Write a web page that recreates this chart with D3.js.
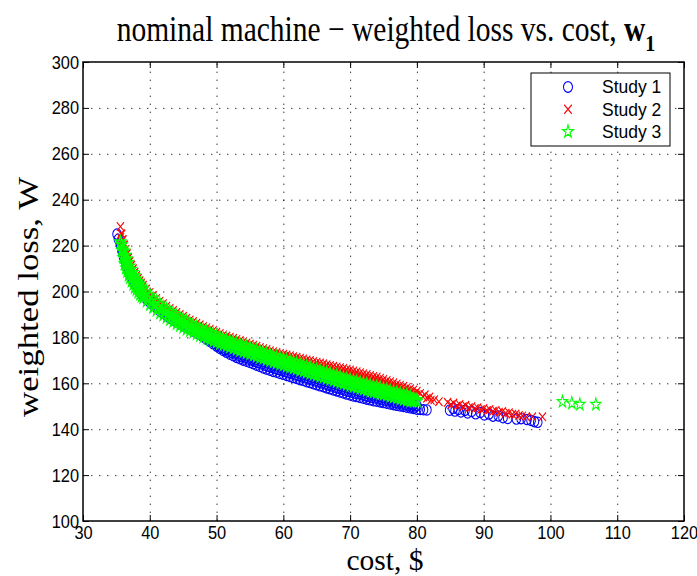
<!DOCTYPE html>
<html>
<head>
<meta charset="utf-8">
<script src="https://cdn.jsdelivr.net/npm/d3@7"></script>
<style>
  body { margin: 0; background: #fff; }
  svg { display: block; }
</style>
</head>
<body>
<svg id="chart" width="697" height="576"></svg>
<script>
// ---- data ---------------------------------------------------------------
const xTicks = [30, 40, 50, 60, 70, 80, 90, 100, 110, 120];
const yTicks = [100, 120, 140, 160, 180, 200, 220, 240, 260, 280, 300];
const legendLabels = ["Study 1", "Study 2", "Study 3"];

// cost values ($) at which the dense part of each front is sampled
const denseCost = [35.6,35.8,36.0,36.2,36.4,36.6,36.8,37.0,37.25,37.5,37.75,38.0,38.25,38.5,38.75,39.0,
  39.5,40.0,40.5,41.0,41.5,42.0,42.5,43.0,43.5,44.0,44.5,45.0,45.5,46.0,46.5,47.0,47.5,48.0,48.5,49.0,49.5,
  50.0,50.5,51.0,51.5,52.0,52.5,53.0,53.5,54.0,54.5,55.0,55.5,56.0,56.5,57.0,57.5,58.0,58.5,59.0,59.5,
  60.0,60.5,61.0,61.5,62.0,62.5,63.0,63.5,64.0,64.5,65.0,65.5,66.0,66.5,67.0,67.5,68.0,68.5,69.0,69.5,
  70.0,70.5,71.0,71.5,72.0,72.5,73.0,73.5,74.0,74.5,75.0,75.5,76.0,76.5,77.0,77.5,78.0,78.5,79.0,79.5,80.0];
// second set of sample costs, lying between the ones above
const midCost = [35.7,35.9,36.1,36.3,36.5,36.7,36.9,37.125,37.375,37.625,37.875,38.125,38.375,38.625,38.875,
  39.25,39.75,40.25,40.75,41.25,41.75,42.25,42.75,43.25,43.75,44.25,44.75,45.25,45.75,46.25,46.75,47.25,47.75,
  48.25,48.75,49.25,49.75,50.25,50.75,51.25,51.75,52.25,52.75,53.25,53.75,54.25,54.75,55.25,55.75,56.25,56.75,
  57.25,57.75,58.25,58.75,59.25,59.75,60.25,60.75,61.25,61.75,62.25,62.75,63.25,63.75,64.25,64.75,65.25,65.75,
  66.25,66.75,67.25,67.75,68.25,68.75,69.25,69.75,70.25,70.75,71.25,71.75,72.25,72.75,73.25,73.75,74.25,74.75,
  75.25,75.75,76.25,76.75,77.25,77.75,78.25,78.75,79.25,79.75];

// Study 1 (weighted loss W)
const study1LossHi = [221.2,218.7,216.5,214.5,212.7,211.1,209.6,208.2,206.7,205.3,204.0,202.8,201.7,200.7,199.8,198.9,
  197.4,196.0,194.7,193.5,192.3,191.2,190.2,189.2,188.3,187.4,186.6,185.8,185.0,184.2,183.5,182.8,182.1,181.4,180.5,179.5,178.5,
  177.5,176.6,175.7,175.0,174.5,174.0,173.5,173.0,172.5,172.0,171.5,171.0,170.5,170.0,169.5,169.0,168.5,168.0,167.6,167.1,
  166.7,166.2,165.8,165.3,164.9,164.4,164.0,163.5,163.1,162.6,162.2,161.7,161.3,160.8,160.4,159.9,159.5,159.0,158.6,158.1,
  157.7,157.3,156.9,156.5,156.1,155.7,155.3,154.9,154.6,154.2,153.9,153.6,153.2,152.9,152.5,152.1,151.9,151.5,151.1,150.7,150.3];
const study1LossMid = [219.7,217.3,215.2,213.3,211.6,210.1,208.6,207.2,205.7,204.4,203.1,202.0,200.9,200.0,199.1,
  197.9,196.4,195.1,193.8,192.6,191.5,190.4,189.4,188.5,187.6,186.7,185.9,185.1,184.3,183.6,182.9,182.1,181.3,
  180.3,179.4,178.4,177.4,176.4,175.5,174.7,174.0,173.4,172.8,172.2,171.6,171.1,170.6,170.1,169.5,169.0,168.4,
  167.9,167.4,166.9,166.4,166.0,165.5,165.1,164.6,164.2,163.7,163.3,162.8,162.4,161.9,161.5,161.0,160.6,160.1,
  159.7,159.2,158.8,158.3,157.9,157.4,157.0,156.5,156.1,155.7,155.4,155.0,154.6,154.2,153.9,153.6,153.2,152.9,
  152.6,152.3,151.9,151.6,151.3,151.0,150.7,150.4,150.0,149.7];
const study1LossLo = [220.5,218.0,215.8,213.8,212.0,210.4,208.9,207.5,206.0,204.6,203.3,202.1,201.0,200.0,199.1,198.2,
  196.7,195.3,194.0,192.8,191.6,190.5,189.5,188.5,187.6,186.7,185.9,185.1,184.3,183.5,182.8,182.1,181.2,180.2,179.2,178.2,177.2,
  176.2,175.2,174.3,173.5,172.7,172.0,171.3,170.7,170.1,169.6,169.1,168.5,167.9,167.3,166.7,166.2,165.7,165.2,164.8,164.3,
  163.9,163.4,163.0,162.5,162.1,161.6,161.2,160.7,160.3,159.8,159.4,158.9,158.5,158.0,157.6,157.1,156.7,156.2,155.8,155.3,
  154.9,154.5,154.2,153.8,153.5,153.1,152.8,152.4,152.2,151.9,151.6,151.3,151.0,150.7,150.4,150.1,149.9,149.6,149.3,149.0,148.7];
const study1ExtraCost = [35.1,35.3,80.5,81.0,81.5,84.9,85.4,85.7,86.2,86.6,87.2,87.6,88.2,88.8,89.5,90.1,90.8,91.4,92.2,92.9,93.6,94.9,95.6,96.5,97.1,97.6,98.1];
const study1ExtraLoss = [225.0,222.8,148.6,148.5,148.4,148.3,149.1,147.9,148.6,147.5,148.2,147.1,147.7,146.7,147.3,146.2,146.6,145.7,145.8,145.0,144.7,144.4,144.6,144.2,143.8,143.3,143.0];

// Study 2
const study2LossHi = [228.3,225.0,222.6,220.3,218.3,216.5,214.8,213.2,211.5,209.9,208.4,207.0,205.8,204.7,203.7,202.7,
  201.1,199.6,198.2,197.0,195.8,194.7,193.6,192.6,191.7,190.8,190.0,189.2,188.4,187.6,186.9,186.2,185.5,184.8,184.2,183.6,183.0,
  182.3,181.7,181.1,180.6,180.1,179.6,179.1,178.6,178.1,177.6,177.1,176.6,176.1,175.6,175.1,174.7,174.2,173.8,173.4,173.0,
  172.7,172.3,172.0,171.6,171.3,170.9,170.6,170.2,169.9,169.5,169.2,168.8,168.5,168.1,167.8,167.4,167.1,166.8,166.5,166.1,
  165.8,165.4,165.0,164.6,164.2,163.8,163.4,163.0,162.7,162.2,161.7,161.2,160.7,160.2,159.7,159.2,158.7,158.2,157.6,157.1,156.5];
const study2LossMid = [225.2,222.6,220.3,218.1,216.2,214.5,212.8,211.2,209.5,208.0,206.5,205.3,204.1,203.1,202.1,
  200.8,199.2,197.8,196.4,195.2,194.1,192.9,191.9,191.0,190.1,189.2,188.4,187.6,186.8,186.1,185.4,184.7,184.0,
  183.3,182.7,182.1,181.5,180.8,180.2,179.7,179.2,178.7,178.2,177.7,177.2,176.7,176.2,175.7,175.2,174.7,174.2,
  173.7,173.3,172.8,172.4,172.1,171.7,171.4,171.0,170.7,170.3,170.0,169.6,169.3,168.9,168.6,168.2,167.9,167.5,
  167.2,166.8,166.5,166.1,165.8,165.4,165.2,164.8,164.4,164.0,163.6,163.2,162.8,162.4,162.0,161.7,161.3,160.8,
  160.3,159.8,159.3,158.8,158.2,157.8,157.2,156.7,156.1,155.6];
const study2LossLo = [223.5,220.5,218.3,216.3,214.5,212.9,211.4,210.0,208.5,207.1,205.8,204.6,203.5,202.5,201.6,200.7,
  199.2,197.8,196.5,195.3,194.1,193.0,192.0,191.0,190.1,189.2,188.4,187.6,186.8,186.0,185.3,184.6,183.9,183.2,182.6,182.0,181.4,
  180.8,180.2,179.6,179.1,178.6,178.1,177.6,177.1,176.6,176.1,175.6,175.1,174.6,174.1,173.6,173.1,172.6,172.2,171.9,171.6,
  171.3,170.9,170.5,170.1,169.7,169.3,168.9,168.5,168.1,167.7,167.3,166.9,166.5,166.1,165.7,165.3,164.9,164.5,164.1,163.7,
  163.3,162.9,162.5,162.1,161.7,161.3,160.9,160.5,160.2,159.8,159.4,159.0,158.5,158.1,157.6,157.2,156.8,156.4,155.9,155.5,155.0];
const study2ExtraCost = [80.5,80.9,81.2,81.5,81.9,82.1,82.6,83.3,84.6,85.1,85.5,86.0,86.4,86.9,87.3,87.8,88.2,88.7,89.1,89.6,
  90.0,90.5,90.9,91.4,91.8,92.3,92.8,93.3,93.8,94.3,94.8,95.3,95.8,96.4,97.3,98.8];
const study2ExtraLoss = [155.6,154.2,155.0,153.5,154.0,152.6,152.8,152.0,151.7,150.7,151.4,150.2,150.8,149.8,150.4,149.4,149.9,149.0,149.4,148.6,
  149.0,148.2,148.6,147.8,148.2,147.4,147.7,147.0,147.2,146.5,146.6,146.0,145.8,145.4,145.4,145.4];

// Study 3
const study3LossHi = [221.5,220.2,218.8,217.6,215.8,214.2,212.7,211.1,209.6,208.2,206.9,205.4,204.3,203.3,202.4,201.2,
  199.7,198.3,197.0,195.8,194.6,193.3,192.3,191.3,190.4,189.5,188.7,187.9,187.1,186.1,185.4,184.7,184.0,183.3,182.7,182.1,181.5,
  180.7,180.1,179.5,179.0,178.5,178.0,177.5,177.0,176.5,176.0,175.5,175.0,174.5,174.0,173.5,173.0,172.5,172.0,171.6,171.1,
  170.7,170.2,169.8,169.3,168.9,168.4,168.0,167.5,167.1,166.6,166.2,165.7,165.3,164.8,164.4,163.9,163.5,163.0,162.6,162.1,
  161.7,161.3,160.9,160.5,160.1,159.7,159.3,158.9,158.6,158.2,157.7,157.3,156.9,156.5,156.1,155.7,155.4,155.0,154.4,153.7,152.9];
const study3LossMid = [220.3,217.9,215.8,213.9,212.2,210.7,209.2,207.8,206.3,205.0,203.7,202.6,201.5,200.6,199.7,
  198.5,197.0,195.7,194.4,193.2,192.1,191.0,190.0,189.1,188.2,187.3,186.5,185.7,184.9,184.2,183.5,182.8,182.1,
  181.4,180.8,180.2,179.6,179.0,178.4,177.9,177.4,176.9,176.4,175.9,175.4,174.9,174.4,173.9,173.4,172.9,172.4,
  171.9,171.4,170.9,170.4,170.0,169.5,169.1,168.6,168.2,167.7,167.3,166.8,166.4,165.9,165.5,165.0,164.6,164.1,
  163.7,163.2,162.8,162.3,161.9,161.4,161.0,160.5,160.1,159.7,159.3,158.9,158.5,158.1,157.7,157.4,157.0,156.6,
  156.2,155.8,155.4,155.0,154.6,154.3,153.9,153.5,153.1,152.7];
const study3LossLo = [221.5,217.8,214.8,212.0,210.2,208.6,207.1,205.9,204.4,203.0,201.7,200.8,199.7,198.7,197.8,197.2,
  195.7,194.3,193.0,191.8,190.6,189.7,188.7,187.7,186.8,185.9,185.1,184.3,183.5,182.9,182.2,181.5,180.8,180.1,179.5,178.9,178.3,
  177.9,177.3,176.7,176.2,175.7,175.2,174.7,174.2,173.7,173.2,172.7,172.2,171.7,171.2,170.7,170.2,169.7,169.2,168.8,168.3,
  167.9,167.4,167.0,166.5,166.1,165.6,165.2,164.7,164.3,163.8,163.4,162.9,162.5,162.0,161.6,161.1,160.7,160.2,159.8,159.3,
  158.9,158.5,158.1,157.7,157.3,156.9,156.5,156.1,155.8,155.4,155.1,154.7,154.3,153.9,153.5,153.1,152.8,152.4,152.2,152.1,152.1];
const study3ExtraCost = [101.8, 103.2, 104.4, 106.8];
const study3ExtraLoss = [152.0, 151.3, 150.8, 150.8];

// ---- layout -------------------------------------------------------------
const W = 697, H = 576;
const plot = { left: 83, right: 684, top: 62, bottom: 521 };
const sansFont = "'Liberation Sans', Arial, Helvetica, sans-serif";
const serifFont = "'Liberation Serif', 'Times New Roman', Times, serif";

const svg = d3.select("#chart");
svg.append("rect").attr("width", W).attr("height", H).attr("fill", "#fff");

const x = d3.scaleLinear().domain([30, 120]).range([plot.left, plot.right]);
const y = d3.scaleLinear().domain([100, 300]).range([plot.bottom, plot.top]);

// dotted grid
const grid = svg.append("g")
  .attr("stroke", "#000").attr("stroke-opacity", 0.8)
  .attr("stroke-width", 1).attr("stroke-dasharray", "1.4,6.6");
grid.selectAll("line.gx").data(xTicks.slice(1, -1)).join("line")
  .attr("x1", d => x(d) + 0.5).attr("x2", d => x(d) + 0.5)
  .attr("y1", plot.bottom).attr("y2", plot.top);
grid.selectAll("line.gy").data(yTicks.slice(1, -1)).join("line")
  .attr("y1", d => y(d) + 0.5).attr("y2", d => y(d) + 0.5)
  .attr("x1", plot.left).attr("x2", plot.right);

// ---- markers ------------------------------------------------------------
const markerPath = {
  circle: d3.symbol(d3.symbolCircle, Math.PI * 4.3 * 4.3)(),
  cross: "M-3.6,-3.6L3.6,3.6M-3.6,3.6L3.6,-3.6",
  star: d3.symbol(d3.symbolStar, 5.4 * 5.4 / 0.8908130915292852)()
};

function zipPoints(costs, losses) {
  return d3.range(Math.min(costs.length, losses.length)).map(i => [costs[i], losses[i]]);
}

const series = [
  { name: legendLabels[0], color: "#0000ff", shape: "circle",
    points: [...zipPoints(denseCost, study1LossHi), ...zipPoints(midCost, study1LossMid),
             ...zipPoints(denseCost, study1LossLo), ...zipPoints(study1ExtraCost, study1ExtraLoss)] },
  { name: legendLabels[1], color: "#ff0000", shape: "cross",
    points: [...zipPoints(denseCost, study2LossHi), ...zipPoints(midCost, study2LossMid),
             ...zipPoints(denseCost, study2LossLo), ...zipPoints(study2ExtraCost, study2ExtraLoss)] },
  { name: legendLabels[2], color: "#00ff00", shape: "star",
    points: [...zipPoints(denseCost, study3LossHi), ...zipPoints(midCost, study3LossMid),
             ...zipPoints(denseCost, study3LossLo), ...zipPoints(study3ExtraCost, study3ExtraLoss)] }
];

const marks = svg.append("g");
series.forEach(s => {
  marks.append("g")
    .attr("fill", "none").attr("stroke", s.color).attr("stroke-width", 1)
    .selectAll("path").data(s.points).join("path")
    .attr("d", markerPath[s.shape])
    .attr("transform", d => `translate(${x(d[0])},${y(d[1])}) scale(1,1.2)`);
});

// ---- axes ---------------------------------------------------------------
function styleAxis(g, labelled) {
  g.select(".domain").remove();
  g.selectAll(".tick line").attr("stroke", "#000").attr("stroke-width", 1);
  g.selectAll("text")
    .attr("fill", "#000")
    .attr("transform", "scale(1,1.15)")
    .style("font-family", sansFont)
    .style("font-size", "16.4px");
  if (!labelled) g.selectAll("text").remove();
}

svg.append("g").attr("transform", `translate(0,${plot.bottom})`)
  .call(d3.axisBottom(x).tickValues(xTicks).tickSize(-6).tickPadding(4).tickFormat(d3.format("d")))
  .call(g => styleAxis(g, true));
svg.append("g").attr("transform", `translate(0,${plot.top})`)
  .call(d3.axisTop(x).tickValues(xTicks).tickSize(-6))
  .call(g => styleAxis(g, false));
svg.append("g").attr("transform", `translate(${plot.left},0)`)
  .call(d3.axisLeft(y).tickValues(yTicks).tickSize(-6).tickPadding(4).tickFormat(d3.format("d")))
  .call(g => styleAxis(g, true));
svg.append("g").attr("transform", `translate(${plot.right},0)`)
  .call(d3.axisRight(y).tickValues(yTicks).tickSize(-6))
  .call(g => styleAxis(g, false));

// axes box
svg.append("rect")
  .attr("x", plot.left).attr("y", plot.top)
  .attr("width", plot.right - plot.left).attr("height", plot.bottom - plot.top)
  .attr("fill", "none").attr("stroke", "#000").attr("stroke-width", 1.5);

// ---- legend -------------------------------------------------------------
const legend = svg.append("g");
legend.append("rect")
  .attr("x", 531).attr("y", 73).attr("width", 139).attr("height", 73)
  .attr("fill", "#fff").attr("stroke", "#000").attr("stroke-width", 1);
series.forEach((s, i) => {
  const cy = 87 + i * 22.3;
  legend.append("path")
    .attr("d", markerPath[s.shape])
    .attr("transform", `translate(568,${cy}) scale(1.05,1.25)`)
    .attr("fill", "none").attr("stroke", s.color).attr("stroke-width", 1);
  legend.append("text")
    .attr("x", 602).attr("y", cy).attr("dy", "0.36em")
    .style("font-family", sansFont).style("font-size", "17.5px")
    .text(s.name);
});

// ---- title and axis labels ----------------------------------------------
const title = svg.append("g").attr("transform", "translate(386,41) scale(1,1.2)")
  .append("text").attr("text-anchor", "middle")
  .style("font-family", serifFont).style("font-size", "29.5px");
title.append("tspan").text("nominal machine \u2212 weighted loss vs. cost, ");
title.append("tspan").attr("font-weight", "bold").text("w");
title.append("tspan").attr("font-weight", "bold").attr("font-size", "20px").attr("dy", "8").text("1");

svg.append("text")
  .attr("x", 385).attr("y", 570).attr("text-anchor", "middle")
  .style("font-family", serifFont).style("font-size", "29.5px")
  .text("cost, $");

svg.append("g").attr("transform", "translate(38,297) rotate(-90) scale(1.2,1)")
  .append("text").attr("text-anchor", "middle")
  .style("font-family", serifFont).style("font-size", "29px")
  .text("weighted loss, W");
</script>
</body>
</html>
